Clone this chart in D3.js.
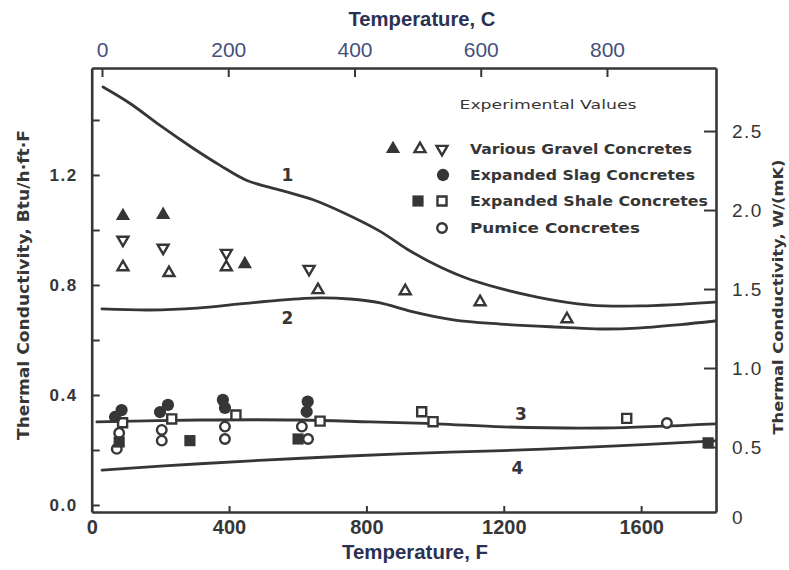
<!DOCTYPE html>
<html>
<head>
<meta charset="utf-8">
<script src="https://cdn.jsdelivr.net/npm/d3@7"></script>
<style>
  html, body { margin: 0; padding: 0; background: #fff; }
  svg { display: block; }
</style>
</head>
<body>
<svg id="chart" width="789" height="570"></svg>
<script>
// ---- axis ticks ----
const tempFTicks = [0, 400, 800, 1200, 1600];          // bottom, °F
const tempCTicks = [0, 200, 400, 600, 800];            // top, °C
const btuTicks = [0, 0.2, 0.4, 0.6, 0.8, 1.0, 1.2, 1.4]; // left, Btu/h·ft·F
const wmkTicks = [0, 0.5, 1.0, 1.5, 2.0, 2.5];         // right, W/(mK)

// ---- calculated curves: [temperature °F, conductivity Btu/h·ft·F] ----
const curve1 = [[33,1.52],[112,1.46],[199,1.38],[292,1.30],[374,1.235],[452,1.18],[549,1.145],
  [645,1.11],[738,1.06],[840,0.995],[919,0.93],[1015,0.865],[1102,0.82],[1297,0.756],
  [1452,0.727],[1597,0.724],[1815,0.738]];
const curve2 = [[30,0.713],[170,0.709],[307,0.716],[432,0.731],[549,0.745],[665,0.753],
  [752,0.749],[840,0.735],[927,0.705],[1053,0.673],[1190,0.658],[1373,0.646],[1480,0.640],
  [1589,0.643],[1714,0.656],[1815,0.669]];
const curve3 = [[15,0.302],[315,0.309],[607,0.309],[811,0.302],[1006,0.295],[1198,0.284],
  [1490,0.280],[1815,0.295]];
const curve4 = [[30,0.127],[315,0.150],[612,0.170],[898,0.186],[1198,0.198],[1481,0.212],
  [1815,0.233]];
const curveLabels = ["1", "2", "3", "4"];
const curveLabelAt = [[570,1.20],[570,0.68],[1250,0.33],[1240,0.135]];

// ---- experimental values: [temperature °F, conductivity Btu/h·ft·F] ----
const gravelSolidUp = [[91,1.051],[208,1.055],[446,0.876]];
const gravelOpenUp = [[91,0.865],[225,0.844],[392,0.865],[659,0.782],[913,0.778],[1131,0.738],[1384,0.676]];
const gravelOpenDown = [[91,0.964],[208,0.935],[392,0.916],[633,0.858]];
const slagSolid = [[87,0.345],[68,0.32],[222,0.364],[199,0.338],[382,0.382],[388,0.353],[629,0.376],[626,0.339]];
const shaleSolid = [[80,0.229],[286,0.234],[601,0.24],[1795,0.226]];
const shaleOpen = [[90,0.299],[233,0.313],[420,0.327],[665,0.305],[961,0.339],[994,0.303],[1558,0.315]];
const pumiceOpen = [[80,0.262],[73,0.204],[204,0.273],[204,0.234],[388,0.285],[388,0.24],[612,0.285],[630,0.24],[1675,0.298]];

const legendTitle = "Experimental Values";
const legendRows = ["Various Gravel Concretes", "Expanded Slag Concretes", "Expanded Shale Concretes", "Pumice Concretes"];

// ---- layout ----
const L = 91.7, R = 716, T = 68, B = 512;
const ink = "#363636";
const svg = d3.select("#chart");

const xF = d3.scaleLinear().domain([0, 1818]).range([L, R]);
const xC = d3.scaleLinear().domain([-16.3, 972.7]).range([L, R]);
const yK = d3.scaleLinear().domain([-0.0255, 1.589]).range([B, T]);
const yW = d3.scaleLinear().domain([0.0886, 2.899]).range([B, T]);

function styleAxis(g) {
  g.selectAll(".domain").attr("stroke", ink).attr("stroke-width", 2.6);
  g.selectAll(".tick line").attr("stroke", ink).attr("stroke-width", 2);
  g.selectAll(".tick text").attr("fill", ink);
}

// bottom axis (°F)
const gBottom = svg.append("g").attr("transform", `translate(0,${B})`)
  .call(d3.axisBottom(xF).tickValues(tempFTicks).tickSizeInner(-6).tickSizeOuter(0)
    .tickPadding(8).tickFormat(d3.format("d")))
  .attr("font-family", "Liberation Sans, Arial, sans-serif").attr("font-size", 20).attr("font-weight", "bold");
styleAxis(gBottom);

// top axis (°C)
const gTop = svg.append("g").attr("transform", `translate(0,${T})`)
  .call(d3.axisTop(xC).tickValues(tempCTicks).tickSizeInner(-9).tickSizeOuter(0)
    .tickPadding(11).tickFormat(d3.format("d")))
  .attr("font-family", "Liberation Sans, Arial, sans-serif").attr("font-size", 21);
styleAxis(gTop);
gTop.selectAll(".tick text").attr("fill", "#46507c");

// left axis (Btu/h·ft·F)
const gLeft = svg.append("g").attr("transform", `translate(${L},0)`)
  .call(d3.axisLeft(yK).tickValues(btuTicks).tickSizeInner(-8).tickSizeOuter(0)
    .tickPadding(14).tickFormat(d => Math.round(d * 10) % 4 === 0 ? d3.format(".1f")(d) : ""))
  .attr("font-family", "Liberation Sans, Arial, sans-serif").attr("font-size", 17).attr("font-weight", "bold");
styleAxis(gLeft);
gLeft.selectAll(".tick text").attr("letter-spacing", 1.5);

// right axis (W/(mK))
const gRight = svg.append("g").attr("transform", `translate(${R},0)`)
  .call(d3.axisRight(yW).tickValues(wmkTicks).tickSizeInner(-12).tickSizeOuter(0)
    .tickPadding(16).tickFormat(d => d === 0 ? "0" : d3.format(".1f")(d)))
  .attr("font-family", "Liberation Sans, Arial, sans-serif").attr("font-size", 19);
styleAxis(gRight);
gRight.selectAll(".tick text").attr("letter-spacing", 1.5);
gRight.selectAll(".tick").filter(d => d === 0)
  .attr("transform", `translate(0,${B + 6})`)
  .select("line").remove();

// axis titles
svg.append("text").attr("x", 422).attr("y", 26).attr("text-anchor", "middle")
  .attr("font-family", "Liberation Sans, Arial, sans-serif").attr("font-weight", "bold")
  .attr("font-size", 20).attr("fill", "#2b3152")
  .attr("textLength", 147).attr("lengthAdjust", "spacingAndGlyphs")
  .text("Temperature, C");
svg.append("text").attr("x", 415).attr("y", 559).attr("text-anchor", "middle")
  .attr("font-family", "Liberation Sans, Arial, sans-serif").attr("font-weight", "bold")
  .attr("font-size", 20).attr("fill", "#2b3152")
  .attr("textLength", 146).attr("lengthAdjust", "spacingAndGlyphs")
  .text("Temperature, F");
svg.append("text").attr("transform", "translate(29,285) rotate(-90)").attr("text-anchor", "middle")
  .attr("font-family", "DejaVu Sans, sans-serif").attr("font-weight", "bold")
  .attr("font-size", 15).attr("fill", ink)
  .attr("textLength", 310).attr("lengthAdjust", "spacingAndGlyphs")
  .text("Thermal Conductivity, Btu/h\u00b7ft\u00b7F");
svg.append("text").attr("transform", "translate(783,297) rotate(-90)").attr("text-anchor", "middle")
  .attr("font-family", "DejaVu Sans, sans-serif").attr("font-weight", "bold")
  .attr("font-size", 14.5).attr("fill", ink)
  .attr("textLength", 275).attr("lengthAdjust", "spacingAndGlyphs")
  .text("Thermal Conductivity, W/(mK)");

// curves
const line = d3.line().x(d => xF(d[0])).y(d => yK(d[1])).curve(d3.curveCatmullRom.alpha(0.5));
svg.append("g").selectAll("path").data([curve1, curve2, curve3, curve4]).join("path")
  .attr("d", line).attr("fill", "none").attr("stroke", ink).attr("stroke-width", 2.8)
  .attr("stroke-linecap", "round");

svg.append("g").selectAll("text").data(curveLabels).join("text")
  .attr("x", (d, i) => xF(curveLabelAt[i][0])).attr("y", (d, i) => yK(curveLabelAt[i][1]))
  .attr("text-anchor", "middle").attr("dominant-baseline", "central")
  .attr("font-family", "DejaVu Sans, sans-serif").attr("font-weight", "bold").attr("font-size", 17)
  .attr("fill", ink).text(d => d);

// marker shapes
const triUpSolid = d3.symbol().type(d3.symbolTriangle).size(88)();
const triUpOpen = d3.symbol().type(d3.symbolTriangle).size(52)();
const circleSolid = d3.symbol().type(d3.symbolCircle).size(118)();
const circleOpen = d3.symbol().type(d3.symbolCircle).size(72)();
const squareSolid = d3.symbol().type(d3.symbolSquare).size(125)();
const squareOpen = d3.symbol().type(d3.symbolSquare).size(82)();

const markerSets = [
  { data: pumiceOpen, path: circleOpen, solid: false, rot: 0 },
  { data: shaleOpen, path: squareOpen, solid: false, rot: 0 },
  { data: shaleSolid, path: squareSolid, solid: true, rot: 0 },
  { data: slagSolid, path: circleSolid, solid: true, rot: 0 },
  { data: gravelOpenUp, path: triUpOpen, solid: false, rot: 0 },
  { data: gravelOpenDown, path: triUpOpen, solid: false, rot: 180 },
  { data: gravelSolidUp, path: triUpSolid, solid: true, rot: 0 }
];

function styleMarker(sel, m) {
  sel.attr("d", m.path)
    .attr("fill", m.solid ? ink : "#fff")
    .attr("stroke", m.solid ? "none" : ink)
    .attr("stroke-width", 2.4);
}

markerSets.forEach(m => {
  svg.append("g").selectAll("path").data(m.data).join("path")
    .attr("transform", d => `translate(${xF(d[0])},${yK(d[1])}) rotate(${m.rot})`)
    .call(sel => styleMarker(sel, m));
});

// legend
const lg = svg.append("g").attr("font-family", "DejaVu Sans, sans-serif").attr("fill", ink);
lg.append("text").attr("x", 548).attr("y", 104).attr("text-anchor", "middle")
  .attr("dominant-baseline", "central").attr("font-size", 13)
  .attr("textLength", 177).attr("lengthAdjust", "spacingAndGlyphs").text(legendTitle);

const rowY = [149, 175, 201, 228];
const rowLen = [222, 225, 238, 170];
lg.selectAll("text.row").data(legendRows).join("text").attr("class", "row")
  .attr("x", 470).attr("y", (d, i) => rowY[i]).attr("dominant-baseline", "central")
  .attr("font-size", 13.5).attr("font-weight", "bold")
  .attr("textLength", (d, i) => rowLen[i]).attr("lengthAdjust", "spacingAndGlyphs")
  .text(d => d);

const legendMarks = [
  { x: 393, row: 0, m: markerSets[6] },
  { x: 420, row: 0, m: markerSets[4] },
  { x: 442, row: 0, m: markerSets[5] },
  { x: 443, row: 1, m: markerSets[3] },
  { x: 418, row: 2, m: markerSets[2] },
  { x: 442, row: 2, m: markerSets[1] },
  { x: 442, row: 3, m: markerSets[0] }
];
legendMarks.forEach(k => {
  lg.append("path").attr("transform", `translate(${k.x},${rowY[k.row]}) rotate(${k.m.rot})`)
    .call(sel => styleMarker(sel, k.m));
});
</script>
</body>
</html>
